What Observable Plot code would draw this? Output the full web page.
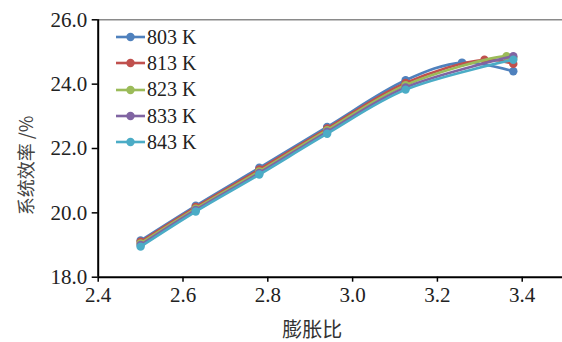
<!DOCTYPE html>
<html>
<head>
<meta charset="utf-8">
<script src="https://cdn.jsdelivr.net/npm/d3@7"></script>
<script src="https://cdn.jsdelivr.net/npm/@observablehq/plot@0.6"></script>
<style>
  html, body { margin: 0; padding: 0; background: #fff; }
  #wrap { position: relative; width: 562px; height: 342px; }
  #legend { position: absolute; left: 114px; top: 24px; font-family: "Liberation Serif", "Times New Roman", serif; font-size: 20px; color: #222; }
  #legend .row { display: flex; align-items: center; height: 26.3px; }
  #legend svg { display: block; margin-right: 1px; }
  #chart svg g[aria-label="y-axis tick label"] text,
  #chart svg g[aria-label="x-axis tick label"] text { font-family: "Liberation Serif", "Times New Roman", serif; }
</style>
</head>
<body>
<div id="wrap">
  <div id="chart"></div>
  <div id="legend"></div>
</div>
<script>
const seriesNames = ["803 K", "813 K", "823 K", "833 K", "843 K"];
const seriesColors = ["#4F81BD", "#C0504D", "#9BBB59", "#8064A2", "#4BACC6"];

const x803 = [2.50, 2.63, 2.78, 2.94, 3.125, 3.258, 3.379];
const y803 = [19.14, 20.22, 21.40, 22.67, 24.12, 24.67, 24.40];
const x813 = [2.50, 2.63, 2.78, 2.94, 3.125, 3.311, 3.379];
const y813 = [19.10, 20.18, 21.35, 22.62, 24.04, 24.76, 24.63];
const x823 = [2.50, 2.63, 2.78, 2.94, 3.125, 3.363, 3.379];
const y823 = [19.05, 20.13, 21.29, 22.57, 23.97, 24.87, 24.82];
const x833 = [2.50, 2.63, 2.78, 2.94, 3.125, 3.379];
const y833 = [19.00, 20.09, 21.24, 22.52, 23.90, 24.87];
const x843 = [2.50, 2.63, 2.78, 2.94, 3.125, 3.379];
const y843 = [18.95, 20.04, 21.19, 22.46, 23.83, 24.76];

const xTicks = [2.4, 2.6, 2.8, 3.0, 3.2, 3.4];
const yTicks = [18, 20, 22, 24, 26];
const xTitle = "膨胀比";
const yTitle = "系统效率 /%";

const xs = [x803, x813, x823, x833, x843];
const ys = [y803, y813, y823, y833, y843];
const data = seriesNames.map((name, i) => xs[i].map((x, j) => ({series: name, x, y: ys[i][j]})));

const serif = "Liberation Serif";
const marks = [
  Plot.ruleY([26], {stroke: "#8a8a8a", strokeWidth: 1.5}),
  Plot.axisY({ticks: yTicks, tickFormat: d3.format(".1f"), tickSize: 6, tickPadding: 5, label: null, fontSize: 21, fontFamily: serif, fill: "#222", stroke: "#000", strokeWidth: 1.5}),
  Plot.axisX({ticks: xTicks, tickFormat: d3.format(".1f"), tickSize: 5, tickPadding: 5, label: null, fontSize: 21, fontFamily: serif, fill: "#222", stroke: "#000", strokeWidth: 1.5}),
  Plot.ruleY([18], {stroke: "#000", strokeWidth: 2}),
  Plot.ruleX([2.4], {stroke: "#000", strokeWidth: 2}),
];
data.forEach(d => {
  marks.push(Plot.line(d, {x: "x", y: "y", stroke: "series", strokeWidth: 2.6, curve: "catmull-rom"}));
  marks.push(Plot.dot(d, {x: "x", y: "y", fill: "series", r: 4.2}));
});
marks.push(Plot.text([xTitle], {frameAnchor: "bottom", lineAnchor: "middle", textAnchor: "middle", dx: -18, dy: 53, fontSize: 20, fontFamily: "Noto Sans CJK SC", fill: "#333"}));
marks.push(Plot.text([yTitle], {frameAnchor: "left", lineAnchor: "middle", textAnchor: "middle", rotate: -90, dx: -71, dy: 17, fontSize: 18, fontFamily: "Noto Sans CJK SC", fill: "#444"}));

const chart = Plot.plot({
  width: 562,
  height: 342,
  marginLeft: 97.7,
  marginRight: 0,
  marginTop: 19.3,
  marginBottom: 65.3,
  x: {domain: [2.4, 3.495]},
  y: {domain: [18, 26]},
  color: {domain: seriesNames, range: seriesColors},
  style: {background: "#fff", overflow: "visible", fontFamily: "'Liberation Serif', serif"},
  marks
});
document.getElementById("chart").appendChild(chart);

const legend = document.getElementById("legend");
seriesNames.forEach((name, i) => {
  const row = document.createElement("div");
  row.className = "row";
  row.innerHTML = `<svg width="32" height="12"><line x1="2" y1="6" x2="31" y2="6" stroke="${seriesColors[i]}" stroke-width="2.6"/><circle cx="16.5" cy="6" r="4.2" fill="${seriesColors[i]}"/></svg><span></span>`;
  row.querySelector("span").textContent = name;
  legend.appendChild(row);
});
</script>
</body>
</html>
